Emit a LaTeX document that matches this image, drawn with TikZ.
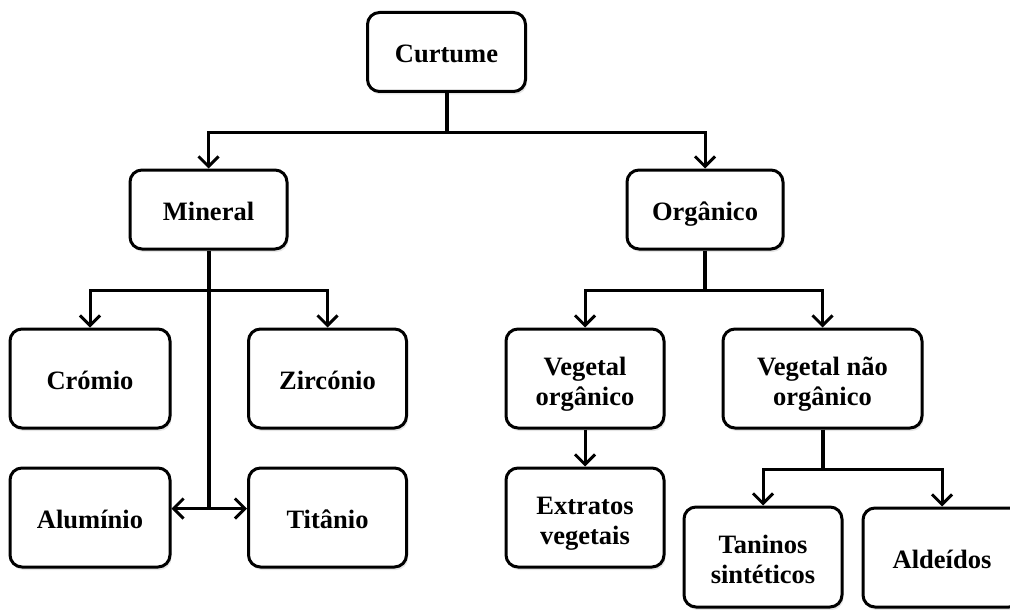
\documentclass[tikz,border=0pt]{standalone}
\usepackage{fontspec}
\setmainfont{Liberation Serif}
\usepackage{tikz}
\usetikzlibrary{calc,shadows,arrows.meta}
\tikzset{
	box/.style={draw,line width=3pt,rounded corners=12pt,fill=white,minimum width=158pt,minimum height=99pt,inner sep=0pt,align=center,font=\fontsize{26.5}{30}\selectfont\bfseries,execute at begin node={\rule[-7pt]{0pt}{36pt}},execute at end node={\rule[-7pt]{0pt}{0pt}},drop shadow={opacity=.2,shadow xshift=1.5pt,shadow yshift=-3pt}},
	top box/.style={box,minimum height=79pt},
	two lines/.style={text height=60pt,text depth=7pt},
	trunk/.style={line width=4pt},
	branch/.style={line width=3pt,-{Straight Barb[length=10pt,width=20pt]}},
}

\begin{document}
\begin{tikzpicture}[x=1pt,y=-1pt]
		\path[use as bounding box,fill=white] (0,0) rectangle (1010,610);
		\node(1) [top box] at (446.5,52) {Curtume};
		\node(2) [top box,minimum width=157pt] at (208.5,209.5) {Mineral};
		\node(3) [top box,minimum width=156pt] at (705,209.5) {Orgânico};
		\node(4) [box,minimum width=160pt] at (90,378.5) {Crómio};
		\node(5) [box] at (327.5,378.5) {Zircónio};
		\node(6) [box,minimum width=160pt] at (90,517.5) {Alumínio};
		\node(7) [box] at (327.5,517.5) {Titânio};
		\node(8) [box,two lines] at (585,378.5) {Vegetal\\orgânico};
		\node(9) [box,two lines,minimum width=199pt] at (822.5,378.5) {Vegetal não\\orgânico};
		\node(10) [box,two lines] at (585,517.5) {Extratos\\vegetais};
		\node(11) [box,two lines,minimum height=100pt] at (763,557) {Taninos\\sintéticos};
		\node(12) [box] at (942,557.5) {Aldeídos};
		\coordinate (a) at ($(1.south)+(0,39)$);
		\draw[trunk] (1.south) -- (a);
		\draw[branch] (a) -| (2.north);
		\draw[branch] (a) -| (3.north);
		\coordinate (b) at ($(2.south)+(0,40)$);
		\coordinate (c) at ($(2.south)+(0,258)$);
		\draw[trunk] (2.south) -- (c);
		\draw[branch] (b) -| (4.north);
		\draw[branch] (b) -| (5.north);
		\draw[branch] (c) -- (c -| 6.east);
		\draw[branch] (c) -- (c -| 7.west);
		\coordinate (d) at ($(3.south)+(0,40)$);
		\draw[trunk] (3.south) -- (d);
		\draw[branch] (d) -| (8.north);
		\draw[branch] (d) -| (9.north);
		\draw[branch] (8.south) -- (10.north);
		\coordinate (e) at ($(9.south)+(0,40)$);
		\draw[trunk] (9.south) -- (e);
		\draw[branch] (e) -| (11.north);
		\draw[branch] (e) -| (12.north);
	\end{tikzpicture}
\end{document}
